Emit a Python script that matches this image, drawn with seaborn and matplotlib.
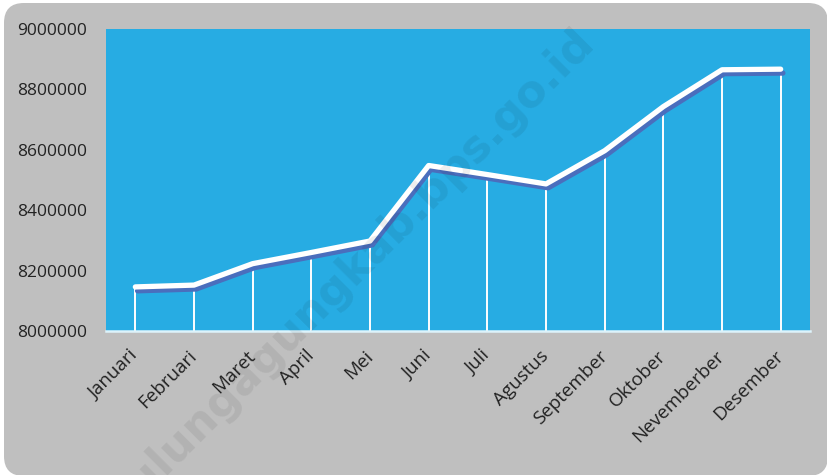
import matplotlib
matplotlib.use("Agg")
import matplotlib.pyplot as plt
import matplotlib.patheffects as pe
from matplotlib.patches import FancyBboxPatch
import seaborn as sns
import pandas as pd

months = ["Januari", "Februari", "Maret", "April", "Mei", "Juni", "Juli",
          "Agustus", "September", "Oktober", "Nevemberber", "Desember"]
values = [8146000, 8152000, 8223000, 8260000, 8298000, 8548000, 8518000,
          8487000, 8597000, 8743000, 8865000, 8867000]
yticks = [8000000, 8200000, 8400000, 8600000, 8800000, 9000000]
watermark = "tulungagungkab.bps.go.id"

df = pd.DataFrame({"month": months, "value": values})
df["pos"] = range(len(months))

sns.set_theme(style="white")
plt.rcParams["font.family"] = ["Open Sans", "DejaVu Sans"]

W, H = 828, 475
fig = plt.figure(figsize=(W / 100, H / 100), dpi=100)
fig.patch.set_facecolor("white")

# rounded grey card
card = FancyBboxPatch((4 / W, -1 / H), (W - 4) / W, (H - 2) / H,
                      boxstyle="round,pad=0,rounding_size=0.024",
                      transform=fig.transFigure, facecolor="#BFBFBF",
                      edgecolor="none", zorder=-10, mutation_aspect=W / H)
fig.patches.append(card)

L, R, T, B = 106, 810, 29, 331
ax = fig.add_axes([L / W, 1 - B / H, (R - L) / W, (B - T) / H])
ax.set_zorder(1)
ax.set_facecolor("#27ACE3")

# drop lines
ax.vlines(df["pos"], yticks[0], df["value"], colors="white", linewidth=1.4, zorder=2)

sns.lineplot(data=df, x="pos", y="value", ax=ax, color="white", linewidth=3.8,
             zorder=3, solid_capstyle="round", solid_joinstyle="round",
             path_effects=[pe.SimpleLineShadow(offset=(1.6, -2.8),
                                               shadow_color="#4A6EBD", alpha=1.0),
                           pe.Normal()])

ax.set_xlim(-0.5, len(months) - 0.5)
ax.set_ylim(yticks[0], yticks[-1])
ax.set_yticks(yticks)
ax.set_yticklabels([str(v) for v in yticks], fontsize=12.5, color="#222222")
ax.set_xticks(df["pos"])
ax.set_xticklabels(months, rotation=45, ha="right", va="center",
                   rotation_mode="anchor", fontsize=13.5, color="#222222")
ax.tick_params(axis="y", length=0, pad=13.5)
ax.tick_params(axis="x", length=0, pad=16)
ax.set_xlabel("")
ax.set_ylabel("")
for s in ["top", "right", "left"]:
    ax.spines[s].set_visible(False)
ax.spines["bottom"].set_color("#DDF3FB")
ax.spines["bottom"].set_linewidth(1.8)
ax.spines["bottom"].set_zorder(4)

fig.text(362 / W, 1 - 280 / H, watermark, rotation=45, rotation_mode="anchor",
         ha="center", va="baseline", fontsize=32, fontweight="bold",
         family=["DejaVu Sans"], color="black", alpha=0.07,
         zorder=10)

fig.savefig("out.png", dpi=100, facecolor=fig.get_facecolor())
